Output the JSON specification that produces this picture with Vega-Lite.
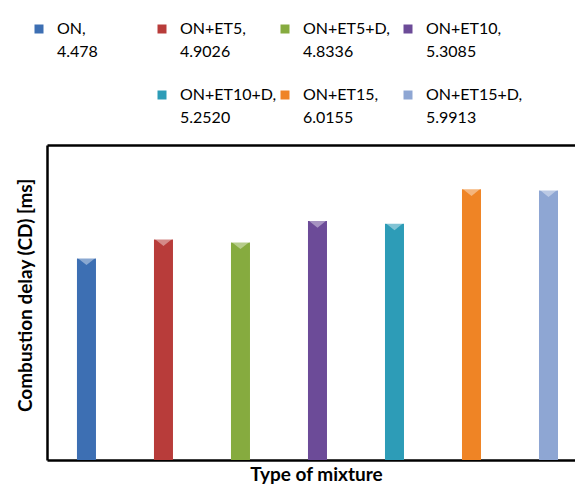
{
  "$schema": "https://vega.github.io/schema/vega-lite/v6.json",
  "autosize": "none",
  "width": 528,
  "height": 315,
  "padding": {"left": 47, "top": 145, "right": 0, "bottom": 27},
  "background": "white",
  "config": {"view": {"stroke": null}, "font": "Lato"},
  "data": {
    "values": [
      {"mixture": "ON", "cd": 4.478},
      {"mixture": "ON+ET5", "cd": 4.9026},
      {"mixture": "ON+ET5+D", "cd": 4.8336},
      {"mixture": "ON+ET10", "cd": 5.3085},
      {"mixture": "ON+ET10+D", "cd": 5.252},
      {"mixture": "ON+ET15", "cd": 6.0155},
      {"mixture": "ON+ET15+D", "cd": 5.9913}
    ]
  },
  "layer": [
    {
      "mark": {"type": "bar"},
      "encoding": {
        "x": {
          "field": "mixture", "type": "nominal", "sort": null,
          "scale": {"paddingInner": 0.7532, "paddingOuter": 0.305, "align": 0.638},
          "axis": {"orient": "bottom", "labels": false, "ticks": false, "domain": true, "domainColor": "black", "domainWidth": 2.5,
                   "title": "Type of mixture", "titleFont": "Lato", "titleFontSize": 19, "titleFontWeight": "bold", "titleColor": "black", "titlePadding": 5, "titleX": 269}
        },
        "y": {
          "field": "cd", "type": "quantitative",
          "scale": {"domain": [0, 7], "nice": false},
          "axis": {"labels": false, "ticks": false, "grid": false, "domain": true, "domainColor": "black", "domainWidth": 2.5,
                   "title": "Combustion delay (CD) [ms]", "titleFont": "Lato", "titleFontSize": 19, "titleFontWeight": "bold", "titleColor": "black", "titlePadding": 12, "titleY": 150}
        },
        "color": {
          "field": "mixture", "type": "nominal",
          "scale": {
            "domain": ["ON", "ON+ET5", "ON+ET5+D", "ON+ET10", " ", "ON+ET10+D", "ON+ET15", "ON+ET15+D"],
            "range": ["#3d6fb3", "#b83c3a", "#86ab3f", "#6c4b98", "transparent", "#2d9cb7", "#ef8425", "#8ea6d3"]
          },
          "legend": {
            "orient": "none", "legendX": -16, "legendY": -124,
            "direction": "horizontal", "columns": 4, "gridAlign": "all",
            "title": null, "symbolType": "square", "symbolSize": 81, "symbolStrokeWidth": 0,
            "labelFont": "Lato", "labelFontSize": 16, "labelColor": "black", "labelOffset": 10,
            "columnPadding": 0, "rowPadding": 27, "labelLimit": 220, "labelBaseline": "alphabetic",
            "labelExpr": "datum.label == ' ' ? '' : [datum.label + ',', {'ON': '4.478', 'ON+ET5': '4.9026', 'ON+ET5+D': '4.8336', 'ON+ET10': '5.3085', 'ON+ET10+D': '5.2520', 'ON+ET15': '6.0155', 'ON+ET15+D': '5.9913'}[datum.label]]",
            "encode": {"labels": {"update": {"lineHeight": {"value": 23}, "dy": {"value": 5}}}}
          }
        }
      }
    },
    {
      "mark": {"type": "point", "shape": "M-1,-0.4L1,-0.4L0,0.4Z", "size": 324, "filled": true, "fill": "white", "opacity": 0.4, "strokeWidth": 0, "yOffset": 3},
      "encoding": {
        "x": {
          "field": "mixture", "type": "nominal", "sort": null,
          "axis": {"orient": "top", "labels": false, "ticks": false, "domain": true, "domainColor": "black", "domainWidth": 2.5, "title": null}
        },
        "y": {"field": "cd", "type": "quantitative"}
      }
    }
  ],
  "resolve": {"axis": {"x": "independent"}}
}
